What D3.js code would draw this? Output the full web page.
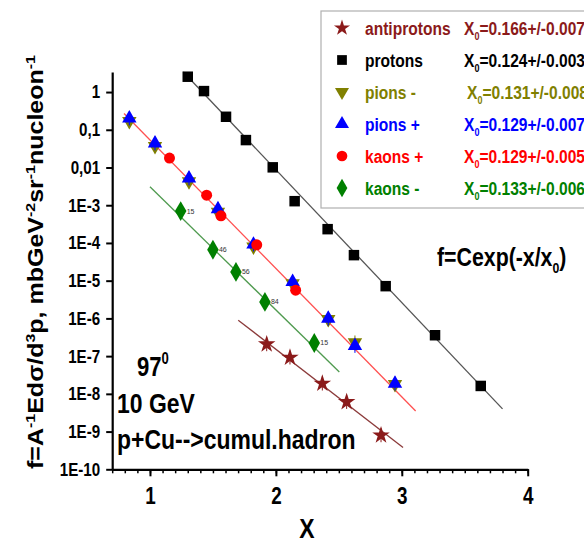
<!DOCTYPE html>
<html>
<head>
<meta charset="utf-8">
<script src="https://cdn.jsdelivr.net/npm/d3@7"></script>
<style>
  body { margin: 0; background: #fff; }
  text { font-family: "Liberation Sans", Arial, sans-serif; font-weight: bold; }
</style>
</head>
<body>
<div id="chart"></div>
<script>
var width = 584, height = 542;
var squeeze = 0.82; // the original lettering is narrow

// values: x and f for each particle
var antiX = [1.927, 2.112, 2.369, 2.562, 2.835];
var antiF = [2.07e-7, 9.2e-8, 1.88e-8, 6.1e-9, 8.0e-10];
var protX = [1.30, 1.429, 1.604, 1.762, 1.975, 2.149, 2.411, 2.620, 2.872, 3.264, 3.627];
var protF = [2.55, 1.06, 0.221, 0.0533, 0.0101, 1.28e-3, 2.32e-4, 4.75e-5, 7.15e-6, 3.58e-7, 1.62e-8];
var pionX = [0.836, 1.040, 1.310, 1.540, 1.822, 2.133, 2.416, 2.628, 2.946];
var pionPlusF = [0.200, 0.0436, 5.14e-3, 7.88e-4, 9.12e-5, 9.3e-6, 9.9e-7, 1.87e-7, 1.88e-8];
var pionMinusF = [0.17, 0.037, 4.3e-3, 6.6e-4, 8.0e-5, 8.5e-6, 9.5e-7, 2.3e-7, 1.8e-8];
var kaPlusX = [1.155, 1.450, 1.564, 1.848, 2.157];
var kaPlusF = [0.0178, 1.85e-3, 5.23e-4, 8.9e-5, 5.6e-6];
var kaMinusX = [1.244, 1.500, 1.683, 1.913, 2.305];
var kaMinusF = [6.98e-4, 6.64e-5, 1.71e-5, 2.74e-6, 2.24e-7];
var kaMinusNotes = ["15", "46", "56", "84", "15"];

// fitted exponentials, start and end points
var fitProt = [[1.265, 3.39], [3.80, 4.0e-9]];
var fitPion = [[0.794, 0.27], [3.11, 3.5e-9]];
var fitKaMinus = [[1.0, 3.08e-3], [2.504, 3.8e-8]];
var fitAnti = [[1.701, 8.95e-7], [3.01, 3.8e-10]];

// legend
var names = ["antiprotons", "protons", "pions -", "pions +", "kaons +", "kaons -"];
var x0Vals = ["=0.166+/-0.007", "=0.124+/-0.003", "=0.131+/-0.008", "=0.129+/-0.007", "=0.129+/-0.005", "=0.133+/-0.006"];
var colors = ["#8b1a1a", "#000000", "#808000", "#0000ff", "#ff0000", "#008000"];

// axes
var xTicks = [1, 2, 3, 4];
var yDecades = [1e-10, 1e-9, 1e-8, 1e-7, 1e-6, 1e-5, 1e-4, 1e-3, 0.01, 0.1, 1];
var yTickLabels = ["1E-10", "1E-9", "1E-8", "1E-7", "1E-6", "1E-5", "1E-4", "1E-3", "0,01", "0,1", "1"];

var svg = d3.select("#chart").append("svg")
    .attr("width", width)
    .attr("height", height);

var x = d3.scaleLinear().domain([0.7, 4.0]).range([112.2, 527.7]);
var y = d3.scaleLog().domain([1e-10, 3.4]).range([469.3, 72]);

// narrow text placed at (px, py)
function ntext(parent, px, py, size, color) {
    return parent.append("text")
        .attr("transform", "translate(" + px + "," + py + ") scale(" + squeeze + ",1)")
        .style("font-size", size + "px")
        .attr("fill", color || "#000");
}

// fit lines
var line = d3.line().x(function (d) { return x(d[0]); }).y(function (d) { return y(d[1]); });
[[fitProt, "#555555"], [fitPion, "#ff5050"], [fitKaMinus, "#4f9a4f"], [fitAnti, "#8b3a3a"]].forEach(function (f) {
    svg.append("path").attr("d", line(f[0]))
        .attr("fill", "none").attr("stroke", f[1]).attr("stroke-width", 1.3);
});

// x axis: minor tenths and major integers
var minorX = d3.range(7, 41).map(function (i) { return i / 10; });
svg.append("g").attr("transform", "translate(0,469.3)")
    .call(d3.axisBottom(x).tickValues(minorX).tickSize(4).tickSizeOuter(0).tickFormat(""))
    .call(function (g) { g.selectAll("line").attr("stroke-width", 1.5); g.select(".domain").attr("stroke-width", 2.2); });
svg.append("g").attr("transform", "translate(0,469.3)")
    .call(d3.axisBottom(x).tickValues(xTicks).tickSize(7).tickSizeOuter(0).tickFormat(d3.format("d")))
    .call(function (g) {
        g.select(".domain").remove();
        g.selectAll("line").attr("stroke-width", 2);
        g.selectAll("text").attr("y", 0).attr("dy", 0)
            .attr("transform", "translate(0,35) scale(" + squeeze + ",1)")
            .style("font-size", "23px").attr("fill", "#000");
    });

// y axis: log minor ticks and decades
var minorY = y.ticks().filter(function (v) { return yDecades.indexOf(v) < 0; });
svg.append("g").attr("transform", "translate(112.2,0)")
    .call(d3.axisLeft(y).tickValues(minorY).tickSize(3).tickSizeOuter(0).tickFormat(""))
    .call(function (g) { g.selectAll("line").attr("stroke-width", 1.3); g.select(".domain").attr("stroke-width", 2.2); });
svg.append("g").attr("transform", "translate(112.2,0)")
    .call(d3.axisLeft(y).tickValues(yDecades).tickSize(6).tickPadding(6).tickSizeOuter(0)
        .tickFormat(function (d, i) { return yTickLabels[i]; }))
    .call(function (g) {
        g.select(".domain").remove();
        g.selectAll("line").attr("stroke-width", 2);
        g.selectAll("text").attr("x", 0)
            .attr("transform", "translate(-12,0) scale(" + squeeze + ",1)")
            .style("font-size", "18.5px").attr("fill", "#000");
    });

// markers
function zip(xs, fs) { return xs.map(function (v, i) { return [v, fs[i]]; }); }
function drawSeries(data, type, size, color, rot, bar) {
    var g = svg.append("g");
    if (bar) {
        // short error bars through the points
        g.selectAll("line").data(data).enter().append("line")
            .attr("x1", function (d) { return x(d[0]); }).attr("x2", function (d) { return x(d[0]); })
            .attr("y1", function (d) { return y(d[1]) - bar; }).attr("y2", function (d) { return y(d[1]) + bar; })
            .attr("stroke", color).attr("stroke-width", 1);
    }
    g.selectAll("path").data(data).enter().append("path")
        .attr("d", d3.symbol().type(type).size(size))
        .attr("transform", function (d) {
            return "translate(" + x(d[0]) + "," + y(d[1]) + ")" + (rot ? " rotate(" + rot + ")" : "");
        })
        .attr("fill", color);
}
drawSeries(zip(protX, protF), d3.symbolSquare, 110, colors[1]);
drawSeries(zip(kaMinusX, kaMinusF), d3.symbolDiamond, 115, colors[5]);
drawSeries(zip(antiX, antiF), d3.symbolStar, 95, colors[0], 0, 7);
drawSeries(zip(pionX, pionMinusF), d3.symbolTriangle, 90, colors[2], 180, 7);
drawSeries(zip(pionX, pionPlusF), d3.symbolTriangle, 90, colors[3], 0, 7);
drawSeries(zip(kaPlusX, kaPlusF), d3.symbolCircle, 95, colors[4]);

// tiny point notes beside the kaons-
svg.append("g").selectAll("text").data(zip(kaMinusX, kaMinusF)).enter().append("text")
    .attr("x", function (d) { return x(d[0]) + 6; })
    .attr("y", function (d) { return y(d[1]) + 2.5; })
    .style("font-size", "7px").style("font-weight", "normal").attr("fill", "#333")
    .text(function (d, i) { return kaMinusNotes[i]; });

// legend
var leg = svg.append("g");
leg.append("rect").attr("x", 321).attr("y", 11).attr("width", 300).attr("height", 197)
    .attr("fill", "#fff").attr("stroke", "#b0b0b0").attr("stroke-width", 1.2);
var legSym = [[d3.symbolStar, 80, 0], [d3.symbolSquare, 95, 0], [d3.symbolTriangle, 85, 180],
              [d3.symbolTriangle, 85, 0], [d3.symbolCircle, 90, 0], [d3.symbolDiamond, 100, 0]];
names.forEach(function (n, i) {
    var cy = 28 + i * 32;
    leg.append("path").attr("d", d3.symbol().type(legSym[i][0]).size(legSym[i][1]))
        .attr("transform", "translate(342," + cy + ") rotate(" + legSym[i][2] + ")")
        .attr("fill", colors[i]);
    ntext(leg, 365, cy + 7, 19, colors[i]).text(n);
    var t = ntext(leg, i === 2 ? 467 : 464, cy + 7, 19, colors[i]);
    t.append("tspan").text("X");
    t.append("tspan").attr("dy", 5).style("font-size", "11px").text("0");
    t.append("tspan").attr("dy", -5).text(x0Vals[i]);
});

// formula
var fml = ntext(svg, 437, 266, 26);
fml.append("tspan").text("f=Cexp(-x/x");
fml.append("tspan").attr("dy", 7).style("font-size", "15px").text("0");
fml.append("tspan").attr("dy", -7).text(")");

// conditions
var a97 = ntext(svg, 137, 376, 27);
a97.append("tspan").text("97");
a97.append("tspan").attr("dy", -12).style("font-size", "16px").text("0");
ntext(svg, 117, 413, 28).text("10 GeV");
ntext(svg, 117, 449, 28).text("p+Cu-->cumul.hadron");

// axis titles
ntext(svg, 307, 538, 28).attr("text-anchor", "middle").text("X");

var yl = svg.append("text").attr("text-anchor", "middle")
    .attr("transform", "translate(43,262) rotate(-90) scale(1,0.85)")
    .style("font-size", "25px").attr("fill", "#000");
[["f=A", 0], ["-1", 1], ["Edσ/d", 0], ["3", 1], ["p, mbGeV", 0], ["-2", 1], ["sr", 0], ["-1", 1], ["nucleon", 0], ["-1", 1]]
    .forEach(function (p, i, arr) {
        var prev = i > 0 ? arr[i - 1][1] : 0;
        var dy = p[1] === prev ? 0 : (p[1] ? -10 : 10);
        yl.append("tspan").attr("dy", dy).style("font-size", p[1] ? "16px" : "25px").text(p[0]);
    });
</script>
</body>
</html>
